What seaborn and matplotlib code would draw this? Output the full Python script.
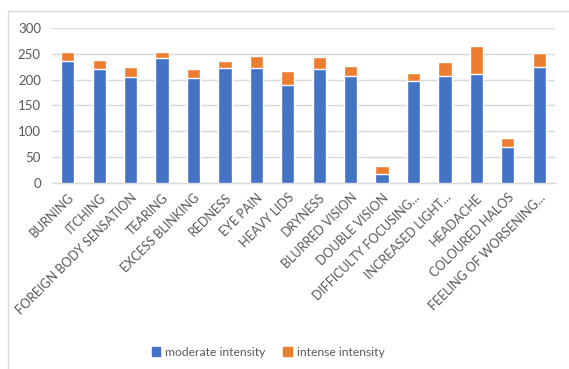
import matplotlib
matplotlib.use("Agg")
import matplotlib.pyplot as plt
import matplotlib.patches as mpatches
import numpy as np
import pandas as pd
import seaborn as sns

symptoms = [
    "BURNING", "ITCHING", "FOREIGN BODY SENSATION", "TEARING", "EXCESS BLINKING",
    "REDNESS", "EYE PAIN", "HEAVY LIDS", "DRYNESS", "BLURRED VISION",
    "DOUBLE VISION", "DIFFICULTY FOCUSING...", "INCREASED LIGHT...", "HEADACHE",
    "COLOURED HALOS", "FEELING OF WORSENING...",
]
moderate = [237, 220, 205, 242, 203, 222, 222, 190, 220, 207, 18, 197, 207, 210, 70, 224]
intense = [17, 19, 19, 12, 17, 15, 24, 27, 24, 20, 15, 15, 27, 56, 17, 27]
y_ticks = [0, 50, 100, 150, 200, 250, 300]

BLUE = "#4472C4"
ORANGE = "#ED7D31"
TEXT = "#595959"
GRID = "#D9D9D9"

df = pd.DataFrame({"symptom": symptoms, "moderate": moderate, "intense": intense})
df["total"] = df["moderate"] + df["intense"]

sns.set_theme(style="white")
plt.rcParams["font.family"] = ["Lato", "DejaVu Sans"]

W, H = 569, 369
fig = plt.figure(figsize=(W / 100, H / 100), dpi=100)
fig.patch.set_facecolor("white")

# chart-area frame
fig.add_artist(mpatches.Rectangle((8 / W, -0.1), 1.2, 1.1 - 11 / H,
                                  transform=fig.transFigure, fill=False,
                                  edgecolor="#D9D9D9", linewidth=1.0))

ax = fig.add_axes([52 / W, 1 - 183 / H, 503 / W, 155 / H])

# stacked bars: full total in orange, moderate part in blue over it
sns.barplot(data=df, x="symptom", y="total", color=ORANGE, saturation=1,
            width=0.42, ax=ax, zorder=3)
sns.barplot(data=df, x="symptom", y="moderate", color=BLUE, saturation=1,
            width=0.42, ax=ax, zorder=4)

ax.set_ylim(0, 300)
ax.set_yticks(y_ticks)
ax.set_xlim(-0.5, len(symptoms) - 0.5)
ax.grid(axis="y", color=GRID, linewidth=1.0, zorder=0)
ax.set_axisbelow(True)
for side in ["left", "right", "top"]:
    ax.spines[side].set_visible(False)
ax.spines["bottom"].set_color(GRID)
ax.spines["bottom"].set_linewidth(1.0)
ax.set_xlabel("")
ax.set_ylabel("")
ax.tick_params(axis="y", length=0, pad=8, labelsize=9.5, labelcolor=TEXT)
ax.tick_params(axis="x", length=0, pad=6, labelsize=9.0, labelcolor=TEXT)
ax.set_xticks(range(len(symptoms)))
ax.set_xticklabels(symptoms, rotation=45, ha="right", rotation_mode="anchor")

handles = [mpatches.Patch(color=BLUE, label="moderate intensity"),
           mpatches.Patch(color=ORANGE, label="intense intensity")]
fig.legend(handles=handles, loc="center", bbox_to_anchor=(268 / W, 1 - 352 / H),
           ncol=2, frameon=False, fontsize=8.7, labelcolor=TEXT,
           handlelength=0.7, handleheight=0.7, handletextpad=0.4, columnspacing=1.5)

fig.savefig("out.png", dpi=100)
